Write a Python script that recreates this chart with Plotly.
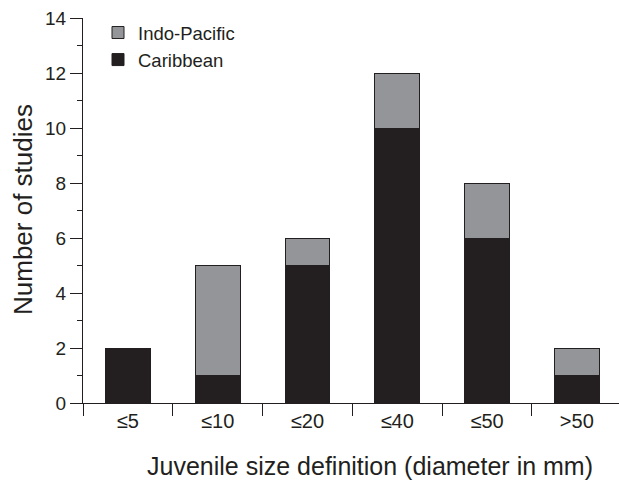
import plotly.graph_objects as go

categories = ["≤5", "≤10", "≤20", "≤40", "≤50", ">50"]
caribbean = [2, 1, 5, 10, 6, 1]
indo_pacific = [0, 4, 1, 2, 2, 1]
y_ticks = [0, 2, 4, 6, 8, 10, 12, 14]

dark = "#231f20"
grey = "#939598"
font = "Liberation Sans, Arial, Helvetica, sans-serif"

x = list(range(len(categories)))

fig = go.Figure()
fig.add_trace(go.Bar(x=x, y=caribbean, name="Caribbean", width=0.5,
                     marker=dict(color=dark, line=dict(color=dark, width=1))))
fig.add_trace(go.Bar(x=x, y=indo_pacific, name="Indo-Pacific", width=0.5,
                     marker=dict(color=grey, line=dict(color=dark, width=1))))

L, T, B = 83, 18, 80
W, H = 619, 483
pw = W - L
ph = H - T - B

fig.update_layout(
    width=W, height=H,
    margin=dict(l=L, r=0, t=T, b=B, pad=0),
    barmode="stack",
    plot_bgcolor="white", paper_bgcolor="white",
    font=dict(family=font, color=dark, size=19),
    showlegend=True,
    legend=dict(x=(98 - L) / pw, y=1.0 + 4 / ph, xanchor="left", yanchor="top",
                traceorder="reversed", bgcolor="rgba(0,0,0,0)",
                font=dict(size=18.5, color=dark), itemwidth=30),
)
fig.update_xaxes(
    range=[-0.5, 5.47], tickmode="array", tickvals=x, ticktext=categories,
    ticks="", showline=True, linecolor=dark, linewidth=1.3,
    showgrid=False, zeroline=False, tickfont=dict(size=20, color=dark),
    ticklabelstandoff=0,
    minor=dict(tick0=-0.5, dtick=1, ticks="outside", ticklen=12,
               tickcolor=dark, tickwidth=1.3, showgrid=False),
)
fig.update_yaxes(
    range=[0, 14], tickmode="array", tickvals=y_ticks,
    ticks="outside", ticklen=12, tickcolor=dark, tickwidth=1.3,
    showline=True, linecolor=dark, linewidth=1.3,
    showgrid=False, zeroline=False, tickfont=dict(size=19, color=dark),
    minor=dict(tick0=1, dtick=2, ticks="outside", ticklen=5,
               tickcolor=dark, tickwidth=1.3, showgrid=False),
)
fig.add_annotation(text="Number of studies", xref="paper", yref="paper",
                   x=(23 - L) / pw, y=1 - (210 - T) / ph, textangle=-90, showarrow=False,
                   font=dict(size=26, color=dark), xanchor="center", yanchor="middle")
fig.add_annotation(text="Juvenile size definition (diameter in mm)", xref="paper", yref="paper",
                   x=(370 - L) / pw, y=-(466 - (H - B)) / ph, showarrow=False,
                   font=dict(size=25, color=dark), xanchor="center", yanchor="middle")

fig.write_html("out.html", config={"displayModeBar": False},
               post_script="document.body.style.margin='0';")
